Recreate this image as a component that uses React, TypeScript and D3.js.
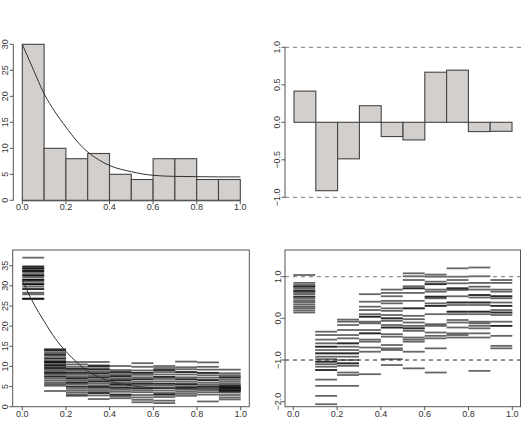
import React from "react";
import * as d3 from "d3";

// ---- data ----
const binEdges = [0, 0.1, 0.2, 0.3, 0.4, 0.5, 0.6, 0.7, 0.8, 0.9, 1.0];
const histCounts = [30, 10, 8, 9, 5, 4, 8, 8, 4, 4];
const fitX = [0, 0.05, 0.1, 0.15, 0.2, 0.25, 0.3, 0.35, 0.4, 0.5, 0.6, 0.7, 0.8, 0.9, 1.0];
const histFit = [30, 25.2, 20.5, 17.0, 14.1, 11.4, 9.3, 7.8, 6.7, 5.5, 4.8, 4.6, 4.55, 4.5, 4.5];
const residuals = [0.416, -0.912, -0.487, 0.221, -0.19, -0.235, 0.668, 0.695, -0.124, -0.12];
const sampleFit = [31.4, 25.8, 21.2, 17.0, 13.7, 11.0, 8.8, 7.4, 6.4, 5.2, 4.7, 4.5, 4.4, 4.35, 4.3];

// simulated counts per bin (repeated values overlap and print darker)
const countDraws = [
  [37.0, 34.8, 34.8, 34.3, 34.3, 34.3, 33.7, 33.7, 33.7, 33.2, 32.6, 32.6, 32.6, 32.1, 31.5, 31.5, 31.5, 31.0, 30.4, 30.4, 30.4, 29.8, 29.2, 29.2, 28.3, 27.9, 26.8, 26.8, 26.8],
  [14.3, 14.0, 14.0, 13.5, 13.0, 13.0, 12.6, 12.0, 12.0, 11.5, 11.1, 11.1, 11.1, 10.7, 10.3, 10.3, 10.0, 9.6, 9.6, 9.2, 8.8, 8.4, 8.4, 8.0, 7.5, 7.5, 7.0, 6.5, 6.0, 5.6, 5.2, 3.9],
  [11.1, 10.5, 9.9, 9.4, 9.4, 8.9, 8.4, 8.4, 7.9, 7.4, 7.0, 7.0, 6.5, 6.0, 6.0, 5.6, 5.0, 5.0, 4.5, 4.0, 3.5, 3.0, 2.7],
  [11.1, 10.2, 10.2, 9.9, 9.3, 9.3, 8.8, 8.3, 8.3, 7.8, 7.3, 7.3, 6.8, 6.3, 6.3, 5.8, 5.3, 4.9, 4.9, 4.4, 3.9, 3.4, 3.4, 2.8, 1.9],
  [10.1, 9.1, 8.6, 8.6, 8.1, 7.6, 7.6, 7.1, 6.6, 6.6, 6.1, 5.6, 5.6, 5.2, 4.7, 4.7, 4.2, 3.7, 3.0, 3.0, 2.6, 2.1],
  [10.8, 9.9, 9.0, 8.4, 8.4, 7.9, 7.3, 6.8, 6.8, 6.2, 5.7, 5.7, 5.2, 4.6, 4.6, 4.1, 3.6, 2.9, 2.3, 1.7, 1.1],
  [10.1, 9.6, 9.1, 9.1, 8.6, 8.0, 7.4, 7.4, 6.9, 6.3, 5.7, 5.7, 5.2, 4.6, 4.6, 4.0, 3.4, 3.0, 3.0, 2.4, 1.5, 0.9],
  [11.2, 9.8, 9.3, 8.6, 8.6, 8.0, 7.3, 6.8, 6.8, 6.2, 5.6, 5.6, 5.1, 4.7, 4.7, 4.2, 3.7, 3.2, 2.7],
  [11.0, 9.9, 9.2, 8.4, 8.4, 7.8, 7.2, 6.6, 6.6, 6.0, 5.5, 5.0, 5.0, 4.6, 4.1, 3.6, 3.0, 1.3],
  [9.2, 8.3, 7.8, 7.3, 7.3, 6.8, 6.3, 5.8, 5.3, 5.3, 4.9, 4.9, 4.6, 4.6, 4.3, 4.3, 4.0, 4.0, 3.8, 3.5, 2.9, 2.3, 1.8],
];

// simulated residuals per bin
const residualDraws = [
  [1.04, 0.85, 0.80, 0.76, 0.76, 0.71, 0.66, 0.66, 0.62, 0.58, 0.52, 0.52, 0.47, 0.42, 0.38, 0.33, 0.28, 0.24, 0.19, 0.14],
  [-0.32, -0.40, -0.51, -0.60, -0.68, -0.68, -0.76, -0.84, -0.84, -0.92, -0.98, -1.04, -1.04, -1.10, -1.16, -1.24, -1.24, -1.47, -1.62, -1.86, -2.06],
  [-0.03, -0.08, -0.16, -0.28, -0.40, -0.48, -0.60, -0.60, -0.68, -0.76, -0.84, -0.84, -0.92, -1.00, -1.08, -1.08, -1.14, -1.30, -1.36, -1.62],
  [0.58, 0.40, 0.28, 0.20, 0.10, 0.04, 0.04, -0.08, -0.12, -0.28, -0.36, -0.36, -0.51, -0.56, -0.70, -0.80, -1.34],
  [0.69, 0.61, 0.53, 0.42, 0.36, 0.24, 0.18, 0.08, 0.0, 0.0, -0.06, -0.16, -0.22, -0.22, -0.38, -0.44, -0.64, -0.72, -0.76, -0.98, -1.12],
  [1.08, 1.01, 0.92, 0.77, 0.72, 0.72, 0.61, 0.42, 0.24, 0.24, 0.06, -0.02, -0.10, -0.18, -0.24, -0.24, -0.30, -0.46, -0.51, -0.56, -0.80, -1.20],
  [1.05, 1.0, 0.88, 0.82, 0.82, 0.69, 0.64, 0.52, 0.52, 0.48, 0.36, 0.30, 0.30, 0.10, -0.14, -0.18, -0.34, -0.42, -0.48, -0.72, -1.30],
  [1.20, 1.0, 0.92, 0.84, 0.72, 0.72, 0.68, 0.53, 0.38, 0.38, 0.32, 0.16, 0.16, 0.10, -0.04, -0.10, -0.22, -0.36, -0.40, -0.46],
  [1.22, 1.01, 0.85, 0.76, 0.69, 0.56, 0.56, 0.50, 0.38, 0.38, 0.32, 0.16, 0.16, 0.10, -0.08, -0.12, -0.18, -0.24, -0.36, -0.46, -1.26],
  [0.92, 0.85, 0.69, 0.64, 0.53, 0.53, 0.48, 0.38, 0.30, 0.30, 0.20, 0.14, 0.14, 0.08, -0.08, -0.18, -0.18, -0.42, -0.66, -0.72],
];

const xTicks = [0, 0.2, 0.4, 0.6, 0.8, 1.0];
const histYTicks = [0, 5, 10, 15, 20, 25, 30];
const residYTicks = [-1, -0.5, 0, 0.5, 1];
const countYTicks = [0, 5, 10, 15, 20, 25, 30, 35];
const drawYTicks = [-2, -1, 0, 1];

const FONT = "'Liberation Sans', Arial, Helvetica, sans-serif";
const FS = 9;
const TXT = "#333";
const AX = "#555";
const BAR_FILL = "#d3cfcc";
const BAR_STROKE = "#444";

function XAxis({ x, y0, fmt, labelY }: { x: d3.ScaleLinear<number, number>; y0: number; fmt: (v: number) => string; labelY: number }) {
  return (
    <g>
      <line x1={x(0)} x2={x(1)} y1={y0} y2={y0} stroke={AX} strokeWidth={1} />
      {xTicks.map((t) => (
        <g key={t}>
          <line x1={x(t)} x2={x(t)} y1={y0} y2={y0 + 3.5} stroke={AX} strokeWidth={1} />
          <text x={x(t)} y={labelY} textAnchor="middle" fontSize={FS} fontFamily={FONT} fill={TXT}>
            {fmt(t)}
          </text>
        </g>
      ))}
    </g>
  );
}

function YAxis({ y, x0, ticks, fmt, labelX, line = true }: { y: d3.ScaleLinear<number, number>; x0: number; ticks: number[]; fmt: (v: number) => string; labelX: number; line?: boolean }) {
  return (
    <g>
      {line && <line x1={x0} x2={x0} y1={y(ticks[0])} y2={y(ticks[ticks.length - 1])} stroke={AX} strokeWidth={1} />}
      {ticks.map((t) => (
        <g key={t}>
          <line x1={x0} x2={x0 - 3.5} y1={y(t)} y2={y(t)} stroke={AX} strokeWidth={1} />
          <text
            transform={`translate(${labelX},${y(t)}) rotate(-90)`}
            textAnchor="middle"
            fontSize={FS}
            fontFamily={FONT}
            fill={TXT}
          >
            {fmt(t)}
          </text>
        </g>
      ))}
    </g>
  );
}

const f1 = d3.format(".1f");
const f0 = d3.format("d");

export default function App() {
  // histogram with fitted curve
  const x1 = d3.scaleLinear().domain([0, 1]).range([22.3, 240.3]);
  const y1 = d3.scaleLinear().domain([0, 30]).range([200.3, 44.3]);
  const fit1 = d3.line<number>().x((_, i) => x1(fitX[i])).y((d) => y1(d)).curve(d3.curveMonotoneX);

  // residual bars
  const x2 = d3.scaleLinear().domain([0, 1]).range([294, 512]);
  const y2 = d3.scaleLinear().domain([-1, 1]).range([197.3, 47.3]);

  // simulated counts
  const x3 = d3.scaleLinear().domain([0, 1]).range([22.3, 240.7]);
  const y3 = d3.scaleLinear().domain([0, 38.9]).range([406.7, 250]);
  const fit3 = d3.line<number>().x((_, i) => x3(fitX[i])).y((d) => y3(d)).curve(d3.curveMonotoneX);

  // simulated residuals
  const x4 = d3.scaleLinear().domain([0, 1]).range([293.3, 512.3]);
  const y4 = d3.scaleLinear().domain([-2.12, 1.64]).range([406.7, 250]);

  return (
    <svg width={525} height={429} style={{ position: "absolute", left: 0, top: 0, background: "#fff" }}>
      {/* top left */}
      <g>
        {histCounts.map((c, i) => (
          <rect
            key={i}
            x={x1(binEdges[i])}
            y={y1(c)}
            width={x1(binEdges[i + 1]) - x1(binEdges[i])}
            height={y1(0) - y1(c)}
            fill={BAR_FILL}
            stroke={BAR_STROKE}
            strokeWidth={1.1}
          />
        ))}
        <path d={fit1(histFit) ?? ""} fill="none" stroke="#333" strokeWidth={1} />
        <XAxis x={x1} y0={y1(0) + 0.5} fmt={f1} labelY={210} />
        <YAxis y={y1} x0={13.3} ticks={histYTicks} fmt={f0} labelX={7.6} />
      </g>

      {/* top right */}
      <g>
        {[-1, 1].map((v) => (
          <line key={v} x1={285} x2={521} y1={y2(v)} y2={y2(v)} stroke="#777" strokeWidth={1} strokeDasharray="4,4" />
        ))}
        {residuals.map((r, i) => (
          <rect
            key={i}
            x={x2(binEdges[i])}
            y={y2(Math.max(0, r))}
            width={x2(binEdges[i + 1]) - x2(binEdges[i])}
            height={Math.abs(y2(r) - y2(0))}
            fill={BAR_FILL}
            stroke={BAR_STROKE}
            strokeWidth={1.1}
          />
        ))}
        <YAxis y={y2} x0={285} ticks={residYTicks} fmt={f1} labelX={279.5} />
      </g>

      {/* bottom left */}
      <g>
        {countDraws.map((vals, i) =>
          vals.map((v, j) => (
            <line
              key={`${i}-${j}`}
              x1={x3(binEdges[i])}
              x2={x3(binEdges[i + 1])}
              y1={y3(v)}
              y2={y3(v)}
              stroke="#000"
              strokeOpacity={0.6}
              strokeWidth={1.8}
            />
          ))
        )}
        <path d={fit3(sampleFit) ?? ""} fill="none" stroke="#333" strokeWidth={1} />
        <rect x={12.7} y={250} width={236.6} height={156.7} fill="none" stroke={AX} strokeWidth={1} />
        {xTicks.map((t) => (
          <g key={t}>
            <line x1={x3(t)} x2={x3(t)} y1={406.7} y2={410.2} stroke={AX} />
            <text x={x3(t)} y={417.3} textAnchor="middle" fontSize={FS} fontFamily={FONT} fill={TXT}>
              {f1(t)}
            </text>
          </g>
        ))}
        <YAxis y={y3} x0={12.7} ticks={countYTicks} fmt={f0} labelX={7.6} line={false} />
      </g>

      {/* bottom right */}
      <g>
        {residualDraws.map((vals, i) =>
          vals.map((v, j) => (
            <line
              key={`${i}-${j}`}
              x1={x4(binEdges[i])}
              x2={x4(binEdges[i + 1])}
              y1={y4(v)}
              y2={y4(v)}
              stroke="#000"
              strokeOpacity={0.6}
              strokeWidth={1.8}
            />
          ))
        )}
        <line x1={285} x2={520.5} y1={y4(1)} y2={y4(1)} stroke="#777" strokeWidth={1} strokeDasharray="4,4" />
        <line x1={285} x2={520.5} y1={y4(-1)} y2={y4(-1)} stroke="#222" strokeWidth={1} strokeDasharray="4,4" />
        <rect x={285} y={250} width={235.5} height={156.7} fill="none" stroke={AX} strokeWidth={1} />
        {xTicks.map((t) => (
          <g key={t}>
            <line x1={x4(t)} x2={x4(t)} y1={406.7} y2={410.2} stroke={AX} />
            <text x={x4(t)} y={417.3} textAnchor="middle" fontSize={FS} fontFamily={FONT} fill={TXT}>
              {f1(t)}
            </text>
          </g>
        ))}
        <YAxis y={y4} x0={285} ticks={drawYTicks} fmt={f1} labelX={281} line={false} />
      </g>
    </svg>
  );
}
